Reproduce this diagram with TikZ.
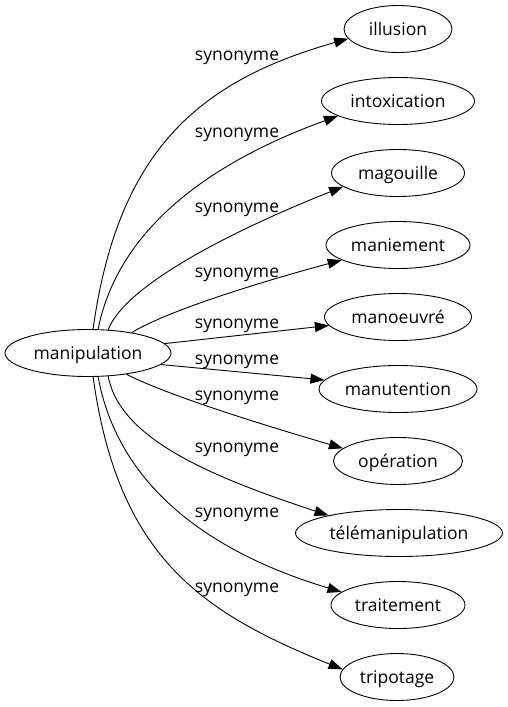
\documentclass[tikz,border=0pt]{standalone}
\usepackage{fontspec}
\setmainfont{Open Sans}
\usetikzlibrary{arrows.meta,shapes.geometric}
\begin{document}
\begin{tikzpicture}[x=1pt,y=-1pt,
  word/.style={draw, ellipse, line width=0.9pt, inner sep=0pt, minimum height=47pt,
    font=\fontsize{17.5}{21}\selectfont, text height=15pt, text depth=3pt},
  lbl/.style={anchor=base, inner sep=0pt, font=\fontsize{17.5}{21}\selectfont},
  edge/.style={line width=0.9pt, -{Triangle[length=14pt,width=10pt]}}]
\useasboundingbox (0,0) rectangle (507,707);

\node[word, minimum width=166pt] (m) at (88,353) {manipulation};
\node[word, minimum width=108pt] (t1) at (398,29) {illusion};
\node[word, minimum width=153pt] (t2) at (398,101) {intoxication};
\node[word, minimum width=133pt] (t3) at (398,173) {magouille};
\node[word, minimum width=144pt] (t4) at (398,245) {maniement};
\node[word, minimum width=147pt] (t5) at (398,317) {manoeuvré};
\node[word, minimum width=158pt] (t6) at (398,389) {manutention};
\node[word, minimum width=129pt] (t7) at (398,461) {opération};
\node[word, minimum width=207pt] (t8) at (399,533) {télémanipulation};
\node[word, minimum width=134pt] (t9) at (398,605) {traitement};
\node[word, minimum width=114pt] (t10) at (397,677) {tripotage};

\draw[edge] (m.78) .. controls (118,150) and (199,81) .. (t1.191);
\draw[edge] (m.67) .. controls (118,230) and (208,163) .. (t2.194);
\draw[edge] (m.49) .. controls (125,285) and (234,230) .. (t3.194);
\draw[edge] (m.25) .. controls (165,312) and (253,284) .. (t4.195);
\draw[edge] (m.7) -- (t5.187);
\draw[edge] (m.351) -- (t6.173);
\draw[edge] (m.331) .. controls (165,394) and (253,422) .. (t7.167);
\draw[edge] (m.311) .. controls (120,440) and (215,478) .. (t8.166);
\draw[edge] (m.293) .. controls (118,485) and (208,552) .. (t9.167);
\draw[edge] (m.282) .. controls (118,556) and (200,612) .. (t10.172);

\node[lbl] (s1) at (237,60.7) {synonyme};
\node[lbl] (s2) at (237,137) {synonyme};
\node[lbl] (s3) at (237,212) {synonyme};
\node[lbl] (s4) at (237,277) {synonyme};
\node[lbl] (s5) at (237,328) {synonyme};
\node[lbl] (s6) at (237,364) {synonyme};
\node[lbl] (s7) at (237,400) {synonyme};
\node[lbl] (s8) at (237,452) {synonyme};
\node[lbl] (s9) at (237,517) {synonyme};
\node[lbl] (s10) at (237,592) {synonyme};
\end{tikzpicture}
\end{document}
